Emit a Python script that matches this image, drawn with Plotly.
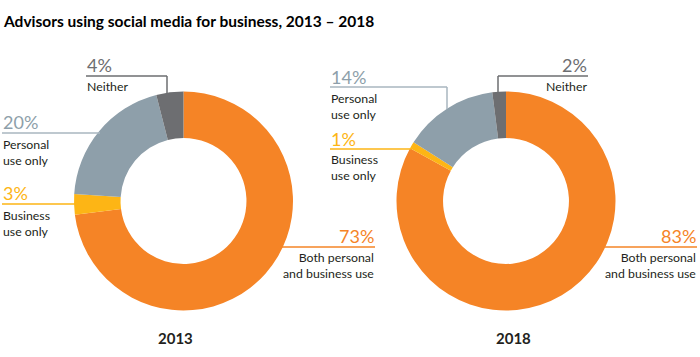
import plotly.graph_objects as go

categories = ["Both personal and business use", "Business use only", "Personal use only", "Neither"]
values_2013 = [73, 3, 20, 4]
values_2018 = [83, 1, 14, 2]
years = ["2013", "2018"]
title = "Advisors using social media for business, 2013 \u2013 2018"

W, H = 700, 357
ORANGE = "#F58426"
YELLOW = "#FDB515"
BLUEGRAY = "#8E9FAA"
DARK = "#6D6E71"
TEXT = "#231F20"
colors = [ORANGE, YELLOW, BLUEGRAY, DARK]
FONT = "Lato"


def px(x):
    return x / W


def py(y):
    return 1 - y / H


def dom(cx, cy, r):
    return dict(x=[px(cx - r), px(cx + r)], y=[py(cy + r), py(cy - r)])


fig = go.Figure()
for vals, (cx, cy) in [(values_2013, (183.5, 201)), (values_2018, (506, 201))]:
    fig.add_trace(go.Pie(
        labels=categories, values=vals, sort=False, direction="clockwise", rotation=0,
        hole=0.575, marker=dict(colors=colors, line=dict(width=0)),
        textinfo="none", hoverinfo="label+value", showlegend=False,
        domain=dom(cx, cy, 109.5),
    ))

ann = []
shapes = []


def text(x, y, s, color=TEXT, size=12.3, anchor="left", bold=False):
    ann.append(dict(x=px(x), y=py(y), xref="paper", yref="paper", text=("<b>%s</b>" % s) if bold else s,
                    showarrow=False, xanchor=anchor, yanchor="middle", align=anchor,
                    font=dict(family=FONT, size=size, color=color)))


def line(pts, color):
    for (x0, y0), (x1, y1) in zip(pts[:-1], pts[1:]):
        shapes.append(dict(type="line", xref="paper", yref="paper", x0=px(x0), y0=py(y0), x1=px(x1), y1=py(y1),
                           line=dict(color=color, width=1.5)))


def pct(v):
    return "%d%%" % v


# 2013 labels
text(85, 65, pct(values_2013[3]), DARK, 18)
line([(86, 76), (167, 76), (167, 93)], DARK)
text(85, 86, "Neither")

text(1, 122, pct(values_2013[2]), BLUEGRAY, 18)
line([(2, 133), (100, 133)], "#A9B6BF")
text(1, 152, "Personal<br>use only")

text(1, 193, pct(values_2013[1]), YELLOW, 18)
line([(2, 204), (76, 204)], YELLOW)
text(1, 223, "Business<br>use only")

text(376, 236, pct(values_2013[0]), ORANGE, 18, "right")
line([(282, 247), (375, 247)], ORANGE)
text(376, 265, "Both personal<br>and business use", anchor="right")

# 2018 labels
text(329, 77, pct(values_2018[2]), BLUEGRAY, 18)
line([(330, 87), (447, 87), (447, 109)], "#A9B6BF")
text(329, 106, "Personal<br>use only")

text(329, 139, pct(values_2018[1]), YELLOW, 18)
line([(330, 149), (411, 149)], YELLOW)
text(329, 167, "Business<br>use only")

text(589, 65, pct(values_2018[3]), DARK, 18, "right")
line([(498, 76), (588, 76)], DARK)
line([(498, 76), (498, 92)], DARK)
text(589, 86, "Neither", anchor="right")

text(698, 236, pct(values_2018[0]), ORANGE, 18, "right")
line([(605, 247), (697, 247)], ORANGE)
text(698, 265, "Both personal<br>and business use", anchor="right")

# years
text(175.5, 338, years[0], TEXT, 15, "center", bold=True)
text(513, 338, years[1], TEXT, 15, "center", bold=True)

# title
text(1, 21, title, "#000000", 15.5, "left", bold=True)

fig.update_layout(
    width=W, height=H, margin=dict(l=0, r=0, t=0, b=0),
    paper_bgcolor="white", plot_bgcolor="white",
    annotations=ann, shapes=shapes, font=dict(family=FONT),
)
fig.write_html("out.html", config={"displayModeBar": False},
               post_script="document.body.style.margin='0';document.body.style.padding='0';")
